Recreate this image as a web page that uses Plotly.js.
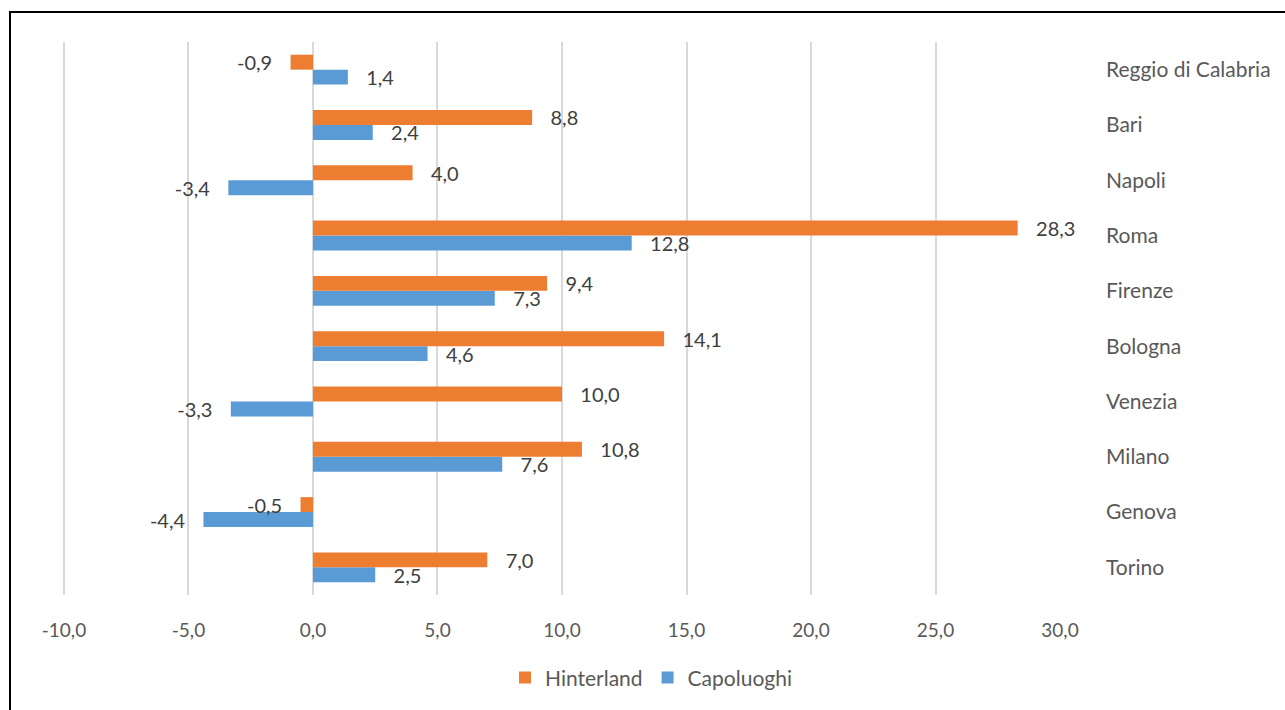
<!DOCTYPE html>
<html>
<head>
<meta charset="utf-8">
<script src="https://cdn.plot.ly/plotly-3.0.1.min.js"></script>
<style>
html,body{margin:0;padding:0;background:#fff;overflow:hidden;width:1285px;height:710px;}
#frame{position:absolute;left:9px;top:11px;width:1276px;height:699px;border-left:2px solid #000;border-top:2px solid #000;}
#chart{width:1274px;height:697px;}
</style>
</head>
<body>
<div id="frame"><div id="chart"></div></div>
<script>
const cities = ["Torino","Genova","Milano","Venezia","Bologna","Firenze","Roma","Napoli","Bari","Reggio di Calabria"];
const capoluoghi = [2.5,-4.4,7.6,-3.3,4.6,7.3,12.8,-3.4,2.4,1.4];
const hinterland = [7.0,-0.5,10.8,10.0,14.1,9.4,28.3,4.0,8.8,-0.9];
const xTicks = [-10,-5,0,5,10,15,20,25,30];

const fmt = v => v.toFixed(1).replace('.', ',');
const pad = '\u00a0\u00a0\u00a0';
const lbl = v => v < 0 ? fmt(v) + pad : pad + fmt(v);

const fontFam = "Lato, 'Open Sans', sans-serif";
const traces = [
  {type:'bar', orientation:'h', name:'Capoluoghi', y:cities, x:capoluoghi,
   marker:{color:'#5B9BD5'}, text:capoluoghi.map(lbl), textposition:'outside', constraintext:'none',
   textfont:{family:fontFam,size:20,color:'#404040'}, cliponaxis:false, hoverinfo:'x+y'},
  {type:'bar', orientation:'h', name:'Hinterland', y:cities, x:hinterland,
   marker:{color:'#ED7D31'}, text:hinterland.map(lbl), textposition:'outside', constraintext:'none',
   textfont:{family:fontFam,size:20,color:'#404040'}, cliponaxis:false, hoverinfo:'x+y'}
];
const layout = {
  width:1274, height:697,
  margin:{l:50, r:224, t:29, b:115},
  paper_bgcolor:'#fff', plot_bgcolor:'#fff',
  separators:',.',
  barmode:'group', bargap:0.46, bargroupgap:0,
  font:{family:fontFam, color:'#595959', size:18},
  xaxis:{range:[-10.12,30.04], tickvals:xTicks, ticktext:xTicks.map(fmt), showgrid:true, gridcolor:'#D9D9D9', gridwidth:2,
         zeroline:false, showline:false, ticks:'', ticklabelstandoff:22, tickfont:{size:19,color:'#595959'}},
  yaxis:{type:'category', categoryorder:'array', categoryarray:cities, side:'right', showgrid:false, zeroline:false,
         showline:false, ticks:'', ticklabelstandoff:44, tickfont:{size:21,color:'#595959'}},
  showlegend:true,
  legend:{orientation:'h', traceorder:'reversed', x:0.59, xanchor:'center', y:-0.15, yanchor:'middle',
          font:{size:21,color:'#595959'}},
  uniformtext:{mode:false}
};
Plotly.newPlot('chart', traces, layout, {displayModeBar:false, staticPlot:true});
</script>
</body>
</html>
